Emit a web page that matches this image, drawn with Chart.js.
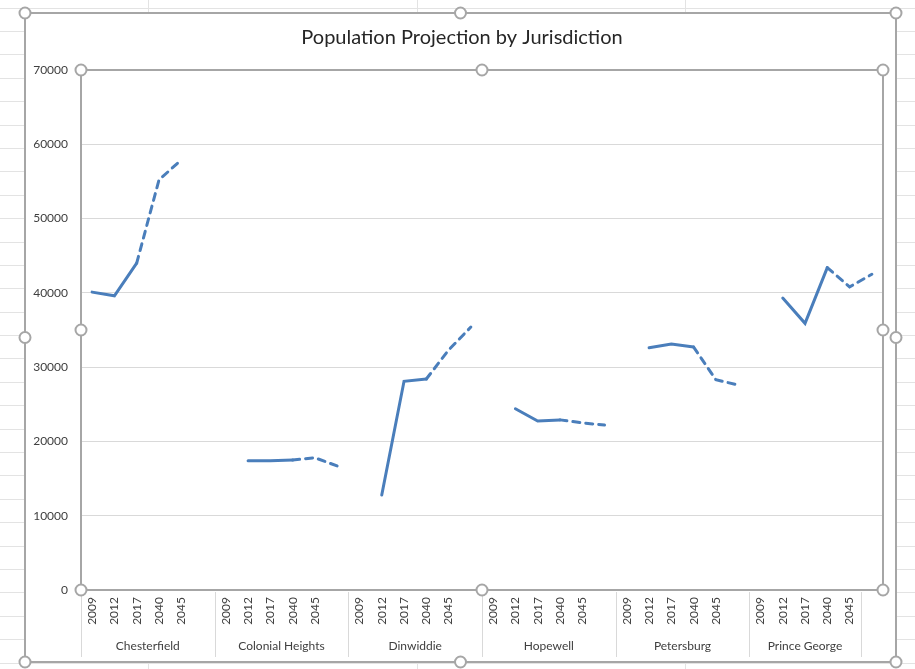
<!DOCTYPE html>
<html>
<head>
<meta charset="utf-8">
<script src="https://cdn.jsdelivr.net/npm/chart.js@4.4.1/dist/chart.umd.min.js"></script>
<style>
  html, body { margin: 0; padding: 0; background: #fff; }
  canvas { display: block; }
</style>
</head>
<body>
<canvas id="popChart" width="915" height="669"></canvas>
<script>
// category structure: each jurisdiction owns a block of year slots
const jurisdictions = ['Chesterfield', 'Colonial Heights', 'Dinwiddie', 'Hopewell', 'Petersburg', 'Prince George', ''];
const slotsPerGroup = [6, 6, 6, 6, 6, 5, 1];
const yearTicks = ['2009', '2012', '2017', '2040', '2045', ''];

// population, one value per slot (null = no point)
const population = [
  40100, 39600, 44000, 55200, 57900, null,
  null, 17400, 17400, 17500, 17800, 16700,
  null, 12800, 28100, 28400, 32300, 35400,
  null, 24400, 22750, 22900, 22500, 22200,
  null, 32600, 33100, 32700, 28300, 27600,
  null, 39300, 35900, 43400, 40800, 42500
];

const yTicks = [0, 10000, 20000, 30000, 40000, 50000, 60000, 70000];

const labels = [];
const groupStart = [];
jurisdictions.forEach(function(name, g) {
  groupStart.push(labels.length);
  for (let k = 0; k < slotsPerGroup[g]; k++) {
    labels.push(name ? yearTicks[k] : '');
  }
});

const FONT = 'Lato, "Open Sans", sans-serif';
const GREY = '#a6a6a6';

// first two steps of each run are actual, later ones projected (dashed)
function runOffset(i) {
  let s = i;
  while (s > 0 && population[s - 1] != null) s--;
  return i - s;
}

function handle(ctx, x, y) {
  ctx.beginPath();
  ctx.arc(x, y, 5.5, 0, Math.PI * 2);
  ctx.fillStyle = '#fff';
  ctx.fill();
  ctx.lineWidth = 2;
  ctx.strokeStyle = GREY;
  ctx.stroke();
}

function frame(ctx, l, t, r, b) {
  ctx.lineWidth = 2;
  ctx.strokeStyle = GREY;
  ctx.strokeRect(l, t, r - l, b - t);
  const mx = (l + r) / 2, my = (t + b) / 2;
  [[l, t], [mx, t], [r, t], [l, my], [r, my], [l, b], [mx, b], [r, b]].forEach(function(p) {
    handle(ctx, p[0], p[1]);
  });
}

const excelLook = {
  id: 'excelLook',
  beforeDraw: function(chart) {
    const ctx = chart.ctx;
    ctx.save();
    // worksheet cell grid behind the chart object
    ctx.strokeStyle = '#e3e3e3';
    ctx.lineWidth = 1;
    for (let y = 7.5; y < chart.height; y += 23.4) {
      ctx.beginPath(); ctx.moveTo(0, Math.round(y) + 0.5); ctx.lineTo(chart.width, Math.round(y) + 0.5); ctx.stroke();
    }
    [148, 417, 685].forEach(function(x) {
      ctx.beginPath(); ctx.moveTo(x + 0.5, 0); ctx.lineTo(x + 0.5, chart.height); ctx.stroke();
    });
    ctx.fillStyle = '#fff';
    ctx.fillRect(25, 13, 871, 649);
    ctx.restore();
  },
  afterDraw: function(chart) {
    const ctx = chart.ctx;
    const area = chart.chartArea;
    const x = chart.scales.x;
    const slot = x.getPixelForValue(1) - x.getPixelForValue(0);
    ctx.save();

    // title
    ctx.fillStyle = '#262626';
    ctx.font = '20px ' + FONT;
    ctx.textAlign = 'center';
    ctx.textBaseline = 'middle';
    ctx.fillText('Population Projection by Jurisdiction', 462, 38);

    // group separators and jurisdiction names
    ctx.strokeStyle = '#d9d9d9';
    ctx.lineWidth = 1;
    groupStart.forEach(function(s) {
      const px = Math.round(x.getPixelForValue(s) - slot / 2) + 0.5;
      ctx.beginPath(); ctx.moveTo(px, area.bottom + 2); ctx.lineTo(px, 657); ctx.stroke();
    });
    ctx.fillStyle = '#404040';
    ctx.font = '12px ' + FONT;
    jurisdictions.forEach(function(name, g) {
      if (!name) return;
      const a = x.getPixelForValue(groupStart[g]) - slot / 2;
      const b = a + slotsPerGroup[g] * slot;
      ctx.fillText(name, (a + b) / 2, 646);
    });

    // selection frames with handles
    frame(ctx, area.left, area.top, area.right, area.bottom);
    frame(ctx, 25, 13, 896, 662);
    ctx.restore();
  }
};

new Chart(document.getElementById('popChart').getContext('2d'), {
  type: 'line',
  data: {
    labels: labels,
    datasets: [{
      label: 'Population',
      data: population,
      borderColor: '#4a7ebb',
      borderWidth: 3,
      pointRadius: 0,
      tension: 0,
      spanGaps: false,
      borderCapStyle: 'round',
      segment: {
        borderDash: function(c) { return runOffset(c.p0DataIndex) >= 2 ? [7, 6] : undefined; }
      }
    }]
  },
  options: {
    responsive: false,
    animation: false,
    layout: { padding: { left: 0, right: 32, top: 70, bottom: 0 } },
    plugins: { legend: { display: false }, title: { display: false }, tooltip: { enabled: false } },
    scales: {
      x: {
        type: 'category',
        offset: true,
        grid: { display: false, drawTicks: false },
        border: { display: false },
        ticks: {
          autoSkip: false, minRotation: 90, maxRotation: 90, padding: 7,
          color: '#404040', font: { family: FONT, size: 12 }
        },
        afterFit: function(s) { s.height = 79; }
      },
      y: {
        min: 0, max: 70000,
        afterBuildTicks: function(s) { s.ticks = yTicks.map(function(v) { return { value: v }; }); },
        grid: { color: '#d9d9d9', lineWidth: 1, drawTicks: false },
        border: { display: false },
        ticks: {
          padding: 13, color: '#404040', font: { family: FONT, size: 12 },
          callback: function(v) { return String(v); }
        },
        afterFit: function(s) { s.width = 81; }
      }
    }
  },
  plugins: [excelLook]
});
</script>
</body>
</html>
